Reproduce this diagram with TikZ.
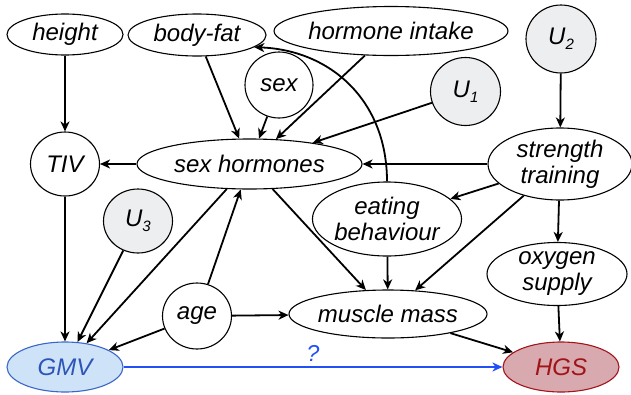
\documentclass[tikz,border=0pt]{standalone}
\usepackage{fontspec}
\setmainfont{Liberation Sans}
\usetikzlibrary{shapes.geometric,arrows.meta}
\definecolor{ugray}{HTML}{EDEEF0}
\definecolor{gmvfill}{HTML}{CFE3F8}
\definecolor{gmvline}{HTML}{3A66C8}
\definecolor{gmvtext}{HTML}{2D55B8}
\definecolor{hgsfill}{HTML}{D8A9AE}
\definecolor{hgsline}{HTML}{A3141B}
\definecolor{hgstext}{HTML}{A01418}
\definecolor{qblue}{HTML}{2350F5}
\newcommand\subidx[1]{\raisebox{-0.2em}{\fontsize{15}{15}\selectfont #1}}
\begin{document}
\begin{tikzpicture}[x=1pt,y=-1pt,
  every node/.style={font=\fontsize{24}{26}\selectfont\itshape},
  var/.style={ellipse,draw=black,line width=1.1pt,inner sep=0pt,align=center},
  latent/.style={var,fill=ugray},
  arr/.style={-{Stealth[length=10pt,width=9pt,inset=3pt]},line width=1.8pt},
]
\useasboundingbox (0,0) rectangle (631,394);
% nodes
\node[var,minimum width=116pt,minimum height=41pt] (height) at (65,34.5) {height};
\node[var,minimum width=138pt,minimum height=42pt] (bodyfat) at (197,35) {body-fat};
\node[var,minimum width=220pt,minimum height=49pt] (hormone) at (391,31) {hormone intake};
\node[latent,minimum width=70pt,minimum height=68pt] (U2) at (561,39) {U\subidx{2}};
\node[var,minimum width=68pt,minimum height=66pt] (sex) at (279,85) {sex};
\node[latent,minimum width=70pt,minimum height=68pt] (U1) at (465.5,91.5) {U\subidx{1}};
\node[var,minimum width=69pt,minimum height=64pt] (TIV) at (65,164) {TIV};
\node[var,minimum width=225pt,minimum height=50pt] (sexh) at (249.5,164) {sex hormones};
\node[var,minimum width=144pt,minimum height=72pt] (strength) at (560,164) {strength\\training};
\node[latent,minimum width=69pt,minimum height=64pt] (U3) at (138,221) {U\subidx{3}};
\node[var,minimum width=148pt,minimum height=74pt] (eating) at (387,219) {eating\\behaviour};
\node[var,minimum width=140pt,minimum height=63pt] (oxygen) at (557,274) {oxygen\\supply};
\node[var,minimum width=69pt,minimum height=66pt] (age) at (197,316) {age};
\node[var,minimum width=186pt,minimum height=48pt] (muscle) at (388,314) {muscle mass};
\node[ellipse,draw=gmvline,fill=gmvfill,text=gmvtext,line width=1.1pt,inner sep=0pt,minimum width=116pt,minimum height=50pt] (GMV) at (65,367) {GMV};
\node[ellipse,draw=hgsline,fill=hgsfill,text=hgstext,line width=1.1pt,inner sep=0pt,minimum width=116pt,minimum height=50pt] (HGS) at (561,367) {HGS};
% edges
\draw[arr] (height) -- (TIV);
\draw[arr] (bodyfat) -- (sexh);
\draw[arr] (sex) -- (sexh);
\draw[arr] (hormone) -- (sexh);
\draw[arr] (U1) -- (sexh);
\draw[arr] (strength) -- (sexh);
\draw[arr] (sexh) -- (TIV);
\draw[arr] (U2) -- (strength);
\draw[arr] (strength) -- (eating);
\draw[arr] (strength) -- (muscle);
\draw[arr] (strength) -- (oxygen);
\draw[arr] (eating) -- (muscle);
\draw[arr] (eating.north) .. controls (387,100) and (330,50) .. (bodyfat.-12);
\draw[arr] (sexh) -- (muscle);
\draw[arr] (sexh) -- (GMV);
\draw[arr] (age) -- (sexh);
\draw[arr] (age) -- (muscle);
\draw[arr] (age) -- (GMV);
\draw[arr] (U3) -- (GMV);
\draw[arr] (TIV) -- (GMV);
\draw[arr] (muscle) -- (HGS);
\draw[arr] (oxygen) -- (HGS);
\draw[arr,draw=qblue,fill=qblue] (GMV) -- node[pos=0.5,above=1pt,text=qblue,font=\fontsize{23}{24}\selectfont\itshape] (q) {?} (HGS);
\end{tikzpicture}
\end{document}
